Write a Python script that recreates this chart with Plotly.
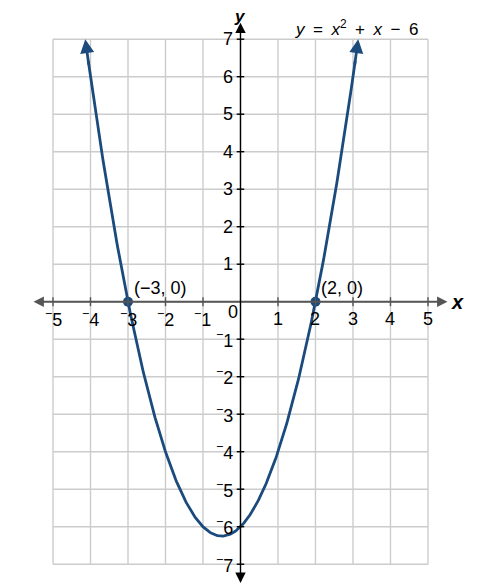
import numpy as np
import plotly.graph_objects as go

# parabola y = a x^2 + b x + c
coef_a, coef_b, coef_c = 1, 1, -6
x_start, x_end = -4.14, 3.14
roots_x = [-3, 2]
roots_y = [0, 0]
root_labels = ["(\u22123, 0)", "(2, 0)"]

x_ticks = [-5, -4, -3, -2, -1, 1, 2, 3, 4, 5]
y_ticks = [-7, -6, -5, -4, -3, -2, -1, 1, 2, 3, 4, 5, 6, 7]

BLUE = "#1b4a7d"
GRID = "#cccccc"
FONT = "Liberation Sans, Arial, sans-serif"


def lab(v):
    return ("<sup>\u2212</sup>" + str(-v)) if v < 0 else str(v)


def f(x):
    return coef_a * x ** 2 + coef_b * x + coef_c


fig = go.Figure()
shapes = []

# grid
for gx in range(-5, 6):
    shapes.append(dict(type="line", x0=gx, x1=gx, y0=-7, y1=7,
                       line=dict(color=GRID, width=1.4), layer="below"))
for gy in range(-7, 8):
    shapes.append(dict(type="line", x0=-5, x1=5, y0=gy, y1=gy,
                       line=dict(color=GRID, width=1.4), layer="below"))

# axes
shapes.append(dict(type="line", x0=-5.3, x1=5.3, y0=0, y1=0,
                   line=dict(color="#555555", width=2)))
shapes.append(dict(type="line", x0=0, x1=0, y0=-7.3, y1=7.25,
                   line=dict(color="black", width=1.4)))

# tick marks
for t in x_ticks:
    shapes.append(dict(type="line", x0=t, x1=t, y0=-0.12, y1=0.12,
                       line=dict(color="#555555", width=1.4)))
for t in y_ticks:
    shapes.append(dict(type="line", x0=-0.1, x1=0.1, y0=t, y1=t,
                       line=dict(color="black", width=1.4)))

# curve (stops just short of the arrow tips)
xs = np.linspace(x_start + 0.08, x_end - 0.08, 300)
fig.add_trace(go.Scatter(x=xs, y=f(xs), mode="lines",
                         line=dict(color=BLUE, width=2.8), hoverinfo="skip"))

# curve arrows
for xe, xn in [(x_start, x_start + 0.1), (x_end, x_end - 0.1)]:
    fig.add_annotation(x=xe, y=f(xe), ax=xn, ay=f(xn), xref="x", yref="y",
                       axref="x", ayref="y", text="", showarrow=True,
                       arrowhead=2, arrowsize=1.0, arrowwidth=2.8, arrowcolor=BLUE)

# axis arrows
for (x0, y0, x1, y1, c) in [(5.2, 0, 5.52, 0, "#555555"), (-5.2, 0, -5.52, 0, "#555555"),
                            (0, 7.15, 0, 7.44, "black"), (0, -7.2, 0, -7.5, "black")]:
    fig.add_annotation(x=x1, y=y1, ax=x0, ay=y0, xref="x", yref="y",
                       axref="x", ayref="y", text="", showarrow=True,
                       arrowhead=2, arrowsize=1.3, arrowwidth=1.6, arrowcolor=c)

# roots
fig.add_trace(go.Scatter(x=roots_x, y=roots_y, mode="markers",
                         marker=dict(color=BLUE, size=10), hoverinfo="skip"))
for rx, rl in zip(roots_x, root_labels):
    fig.add_annotation(x=rx + 0.1, y=0.36, text=rl, showarrow=False,
                       xanchor="left", font=dict(size=18, color="black", family=FONT))

# tick labels
for t in x_ticks:
    fig.add_annotation(x=t, y=-0.45, text=lab(t), showarrow=False,
                       font=dict(size=18, color="black", family=FONT))
fig.add_annotation(x=-0.2, y=-0.27, text="0", showarrow=False,
                   font=dict(size=18, color="black", family=FONT))
for t in y_ticks:
    fig.add_annotation(x=-0.17, y=t, text=lab(t), showarrow=False, xanchor="right",
                       borderpad=0, font=dict(size=18, color="black", family=FONT))

# axis labels and equation
fig.add_annotation(x=5.55, y=0, text="<b><i>x</i></b>", showarrow=False, xanchor="left",
                   font=dict(size=20, color="black", family=FONT))
fig.add_annotation(x=0, y=7.6, text="<b><i>y</i></b>", showarrow=False,
                   borderpad=0, font=dict(size=17, color="black", family=FONT))
fig.add_annotation(x=4.8, y=7.3,
                   text="<i>y</i>\u2002=\u2002<i>x</i><sup>2</sup>\u2002+\u2002<i>x</i>\u2002\u2212\u20026",
                   showarrow=False, xanchor="right",
                   font=dict(size=17, color="black", family=FONT))

# page body has an 8px margin, so ranges are shifted to line up with the window
fig.update_layout(
    width=487, height=588,
    margin=dict(l=0, r=0, t=0, b=0),
    plot_bgcolor="white", paper_bgcolor="white",
    showlegend=False, shapes=shapes,
    xaxis=dict(range=[-6.2, 6.787], visible=False, fixedrange=True),
    yaxis=dict(range=[-7.848, 7.832], visible=False, fixedrange=True),
)

fig.write_html("out.html")
